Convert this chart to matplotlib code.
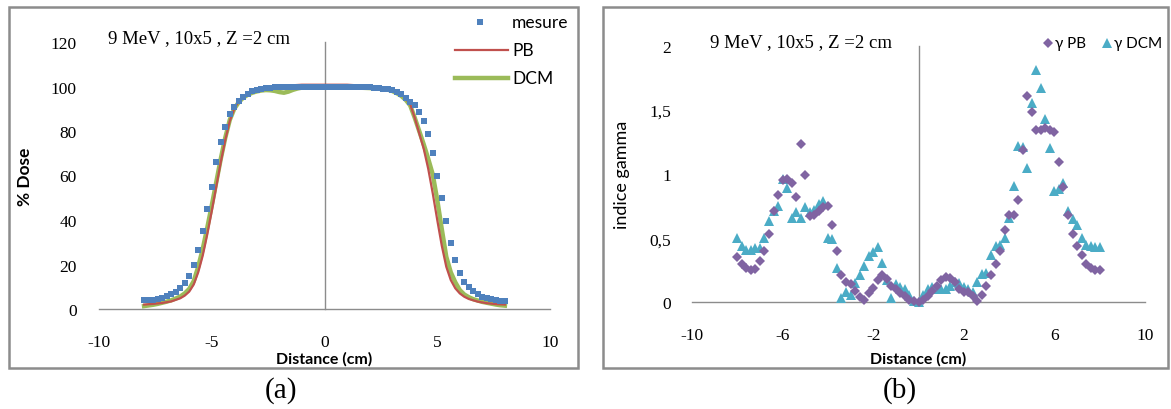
import matplotlib.pyplot as plt
from matplotlib.patches import Rectangle

plt.rcParams['axes.unicode_minus'] = False

W, H = 1171, 410

# ---- panel (a) : dose profiles ----
mesure_x = [-8.0, -7.8, -7.6, -7.4, -7.2, -7.0, -6.8, -6.6, -6.4, -6.2, -6.0, -5.8, -5.6, -5.4, -5.2, -5.0,
            -4.8, -4.6, -4.4, -4.2, -4.0, -3.8, -3.6, -3.4, -3.2, -3.0, -2.8, -2.6, -2.4, -2.2, -2.0, -1.8,
            -1.6, -1.4, -1.2, -1.0, -0.8, -0.6, -0.4, -0.2, 0.0, 0.2, 0.4, 0.6, 0.8, 1.0, 1.2, 1.4, 1.6, 1.8,
            2.0, 2.2, 2.4, 2.6, 2.8, 3.0, 3.2, 3.4, 3.6, 3.8, 4.0, 4.2, 4.4, 4.6, 4.8, 5.0, 5.2, 5.4, 5.6,
            5.8, 6.0, 6.2, 6.4, 6.6, 6.8, 7.0, 7.2, 7.4, 7.6, 7.8, 8.0]
mesure_y = [4.0, 4.0, 4.1, 4.5, 5.0, 5.8, 6.6, 7.8, 9.3, 11.8, 15.0, 19.7, 26.5, 35.0, 45.0, 55.0,
            66.0, 75.0, 82.0, 87.5, 91.0, 93.5, 95.5, 96.8, 97.8, 98.6, 99.0, 99.3, 99.5, 99.6, 99.7, 99.8,
            99.8, 99.9, 100.0, 100.0, 100.0, 100.0, 100.0, 100.0, 100.0, 100.0, 100.0, 100.0, 100.0, 100.0,
            99.9, 99.8, 99.8, 99.7, 99.6, 99.5, 99.3, 99.1, 98.8, 98.3, 97.5, 96.5, 95.0, 93.0, 91.5, 88.5,
            84.5, 78.5, 70.0, 60.0, 50.0, 39.5, 29.5, 22.0, 16.0, 12.3, 9.7, 7.9, 6.6, 5.5, 4.8, 4.3, 3.9,
            3.6, 3.4]

pb_x = [-8.0, -7.6, -7.2, -6.8, -6.4, -6.2, -6.0, -5.8, -5.6, -5.4, -5.2, -5.0, -4.8, -4.6, -4.4, -4.2,
        -4.0, -3.8, -3.6, -3.4, -3.2, -3.0, -2.6, -2.0, -1.5, -1.0, 0.0, 1.0, 1.5, 2.0, 2.6, 3.0, 3.2,
        3.4, 3.6, 3.8, 4.0, 4.2, 4.4, 4.6, 4.8, 5.0, 5.2, 5.4, 5.6, 5.8, 6.0, 6.2, 6.4, 6.8, 7.2, 7.6, 8.0]
pb_y = [2.0, 2.3, 2.7, 3.4, 4.8, 6.0, 7.8, 11.0, 16.5, 24.0, 33.5, 44.0, 55.0, 66.0, 76.0, 84.5,
        90.0, 93.5, 95.5, 96.8, 97.8, 98.5, 99.2, 99.6, 100.5, 100.8, 100.8, 100.8, 100.5, 99.8, 99.3,
        98.6, 97.8, 96.6, 94.5, 92.0, 86.0, 79.0, 72.0, 63.0, 52.0, 40.0, 28.5, 19.0, 13.0, 9.3, 7.0,
        5.5, 4.5, 3.3, 2.6, 2.2, 2.0]

dcm_x = [-8.0, -7.8, -7.6, -7.4, -7.2, -7.0, -6.8, -6.6, -6.4, -6.2, -6.0, -5.8, -5.6, -5.4, -5.2, -5.0,
         -4.8, -4.6, -4.4, -4.2, -4.0, -3.8, -3.6, -3.4, -3.2, -3.0, -2.8, -2.6, -2.4, -2.2, -2.0, -1.8,
         -1.6, -1.4, -1.2, -1.0, -0.8, -0.4, 0.0, 1.0, 2.0, 2.4, 2.8, 3.0, 3.2, 3.4, 3.6, 3.8, 4.0, 4.2,
         4.4, 4.6, 4.8, 5.0, 5.2, 5.4, 5.6, 5.8, 6.0, 6.2, 6.4, 6.6, 6.8, 7.0, 7.2, 7.4, 7.6, 7.8, 8.0]
dcm_y = [1.3, 1.6, 1.9, 2.3, 2.8, 3.3, 3.9, 4.7, 5.6, 7.0, 9.0, 12.5, 19.0, 27.0, 36.5, 46.5,
         57.0, 67.5, 77.0, 85.0, 90.0, 93.0, 95.0, 96.3, 97.2, 97.8, 98.2, 98.4, 98.3, 98.0, 97.5, 97.2,
         97.7, 98.5, 99.1, 99.5, 99.7, 99.9, 100.0, 99.7, 99.3, 99.0, 98.6, 98.0, 97.0, 95.8, 94.0, 91.5,
         86.0, 80.0, 74.0, 67.5, 60.5, 49.0, 36.0, 23.5, 16.5, 12.0, 8.5, 6.5, 5.3, 4.4, 3.8, 3.2, 2.8,
         2.4, 2.0, 1.7, 1.5]

# ---- panel (b) : gamma index ----
g_x = [-8.0, -7.8, -7.6, -7.4, -7.2, -7.0, -6.8, -6.6, -6.4, -6.2, -6.0, -5.8, -5.6, -5.4, -5.2, -5.0,
       -4.8, -4.6, -4.4, -4.2, -4.0, -3.8, -3.6, -3.4, -3.2, -3.0, -2.8, -2.6, -2.4, -2.2, -2.0, -1.8,
       -1.6, -1.4, -1.2, -1.0, -0.8, -0.6, -0.4, -0.2, 0.0, 0.2, 0.4, 0.6, 0.8, 1.0, 1.2, 1.4, 1.6, 1.8,
       2.0, 2.2, 2.4, 2.6, 2.8, 3.0, 3.2, 3.4, 3.6, 3.8, 4.0, 4.2, 4.4, 4.6, 4.8, 5.0, 5.2, 5.4, 5.6,
       5.8, 6.0, 6.2, 6.4, 6.6, 6.8, 7.0, 7.2, 7.4, 7.6, 7.8, 8.0]
gamma_pb = [0.35, 0.30, 0.27, 0.25, 0.26, 0.32, 0.40, 0.53, 0.71, 0.84, 0.95, 0.96, 0.93, 0.82, 1.23, 0.99,
            0.67, 0.68, 0.71, 0.74, 0.75, 0.60, 0.40, 0.21, 0.16, 0.14, 0.09, 0.04, 0.02, 0.07, 0.11, 0.17,
            0.21, 0.18, 0.13, 0.10, 0.07, 0.05, 0.02, 0.01, 0.00, 0.02, 0.05, 0.09, 0.13, 0.17, 0.20, 0.19,
            0.16, 0.10, 0.08, 0.08, 0.05, 0.01, 0.06, 0.13, 0.21, 0.30, 0.40, 0.56, 0.68, 0.68, 0.80, 1.19,
            1.61, 1.48, 1.34, 1.34, 1.36, 1.34, 1.33, 1.09, 0.90, 0.68, 0.53, 0.44, 0.37, 0.30, 0.27, 0.25,
            0.25]
gamma_dcm = [0.50, 0.44, 0.41, 0.41, 0.42, 0.42, 0.50, 0.63, 0.71, 0.75, 0.96, 0.89, 0.66, 0.70, 0.66, 0.74,
             0.70, 0.72, 0.77, 0.79, 0.50, 0.49, 0.27, 0.03, 0.08, 0.06, 0.15, 0.21, 0.28, 0.36, 0.39, 0.43,
             0.31, 0.17, 0.03, 0.14, 0.12, 0.10, 0.06, 0.01, 0.00, 0.06, 0.10, 0.12, 0.10, 0.10, 0.10, 0.13,
             0.16, 0.15, 0.12, 0.10, 0.08, 0.16, 0.22, 0.23, 0.37, 0.44, 0.45, 0.50, 0.66, 0.91, 1.22, 1.21,
             1.05, 1.55, 1.81, 1.67, 1.43, 1.20, 0.87, 0.88, 0.93, 0.71, 0.65, 0.60, 0.50, 0.45, 0.44, 0.43,
             0.43]

gamma_ticks = [0, 0.5, 1, 1.5, 2]
gamma_ticklabels = ['0', '0,5', '1', '1,5', '2']
note = '9 MeV , 10x5 , Z =2 cm'

SERIF = 'Liberation Serif'
SANS = 'Lato'
GRAY = '#8c8c8c'


def fx(px):
    return px / W


def fy(py):
    return 1 - py / H


fig = plt.figure(figsize=(W / 100, H / 100), dpi=100)

# outer frames of both panels
for x0, x1 in [(9, 578), (603, 1168)]:
    fig.patches.append(Rectangle((fx(x0), fy(369)), fx(x1 - x0), (369 - 8) / H,
                                 transform=fig.transFigure, fill=False, edgecolor=GRAY, linewidth=1.8))

ax1 = fig.add_axes([fx(99), fy(310), fx(451), 267 / H])
ax2 = fig.add_axes([fx(692), fy(303.3), fx(453), 256.6 / H])

for ax in (ax1, ax2):
    for s in ax.spines.values():
        s.set_visible(False)
    ax.set_facecolor('none')
    ax.set_xlim(-10, 10)
    ax.tick_params(length=0, labelsize=12.5)

# panel a
ax1.set_ylim(0, 120)
ax1.plot([-10, 10], [0, 0], color=GRAY, lw=1, clip_on=False)
ax1.plot([0, 0], [0, 120], color=GRAY, lw=1, clip_on=False)
ax1.plot(pb_x, pb_y, color='#c0504d', lw=1.6, zorder=3)
ax1.plot(dcm_x, dcm_y, color='#9bbb59', lw=3.2, zorder=2)
ax1.plot(mesure_x, mesure_y, 's', color='#4f81bd', ms=4.8, mew=0, zorder=4)
ax1.set_xticks([-10, -5, 0, 5, 10])
ax1.set_yticks([0, 20, 40, 60, 80, 100, 120])
ax1.tick_params(axis='x', pad=18)
ax1.tick_params(axis='y', pad=16)
for lab in ax1.get_xticklabels() + ax1.get_yticklabels():
    lab.set_family(SERIF)

# panel b
ax2.set_ylim(0, 2)
ax2.plot([-10, 10], [0, 0], color=GRAY, lw=1, clip_on=False)
ax2.plot([0, 0], [0, 2], color=GRAY, lw=1, clip_on=False)
ax2.plot(g_x, gamma_pb, 'D', color='#8064a2', ms=5.2, mew=0, zorder=3, clip_on=False)
ax2.plot(g_x, gamma_dcm, '^', color='#4bacc6', ms=6.8, mew=0, zorder=2, clip_on=False)
ax2.set_xticks([-10, -6, -2, 2, 6, 10])
ax2.set_yticks(gamma_ticks)
ax2.set_yticklabels(gamma_ticklabels)
ax2.tick_params(axis='x', pad=18)
ax2.tick_params(axis='y', pad=15)
for lab in ax2.get_xticklabels() + ax2.get_yticklabels():
    lab.set_family(SERIF)

# texts
fig.text(fx(108), fy(39), note, family=SERIF, fontsize=13.5, va='center', ha='left')
fig.text(fx(710), fy(43), note, family=SERIF, fontsize=13.5, va='center', ha='left')

fig.text(fx(324.5), fy(359), 'Distance (cm)', family=SANS, fontsize=11.5, weight='bold',
         ha='center', va='center')
fig.text(fx(918), fy(359), 'Distance (cm)', family=SANS, fontsize=11.5, weight='bold',
         ha='center', va='center')
fig.text(fx(25), fy(177), '% Dose', family=SANS, fontsize=12.5, weight='bold',
         rotation=90, ha='center', va='center')
fig.text(fx(621.5), fy(175), 'indice gamma', family=SANS, fontsize=13,
         rotation=90, ha='center', va='center')

fig.text(fx(281), fy(391), '(a)', family=SERIF, fontsize=21, ha='center', va='center')
fig.text(fx(900), fy(391), '(b)', family=SERIF, fontsize=21, ha='center', va='center')

# legend panel a (drawn by hand like the Excel one)
fig.lines.append(plt.Line2D([fx(480)], [fy(22.7)], marker='s', color='#4f81bd', ms=4.8, mew=0,
                            ls='none', transform=fig.transFigure))
fig.lines.append(plt.Line2D([fx(455), fx(508)], [fy(50.7), fy(50.7)], color='#c0504d', lw=1.6,
                            transform=fig.transFigure))
fig.lines.append(plt.Line2D([fx(455), fx(508)], [fy(79), fy(79)], color='#9bbb59', lw=3.2,
                            transform=fig.transFigure))
for txt, yy in [('mesure', 22.7), ('PB', 50.7), ('DCM', 79)]:
    fig.text(fx(512), fy(yy), txt, family=SANS, fontsize=12.5, ha='left', va='center')

# legend panel b
fig.lines.append(plt.Line2D([fx(1048)], [fy(44)], marker='D', color='#8064a2', ms=5.2, mew=0,
                            ls='none', transform=fig.transFigure))
fig.lines.append(plt.Line2D([fx(1107)], [fy(44)], marker='^', color='#4bacc6', ms=6.8, mew=0,
                            ls='none', transform=fig.transFigure))
fig.text(fx(1055), fy(44), 'γ PB', family=[SANS, 'DejaVu Sans'], fontsize=11, ha='left', va='center')
fig.text(fx(1114), fy(44), 'γ DCM', family=[SANS, 'DejaVu Sans'], fontsize=11, ha='left', va='center')

fig.savefig('out.png', dpi=100)
